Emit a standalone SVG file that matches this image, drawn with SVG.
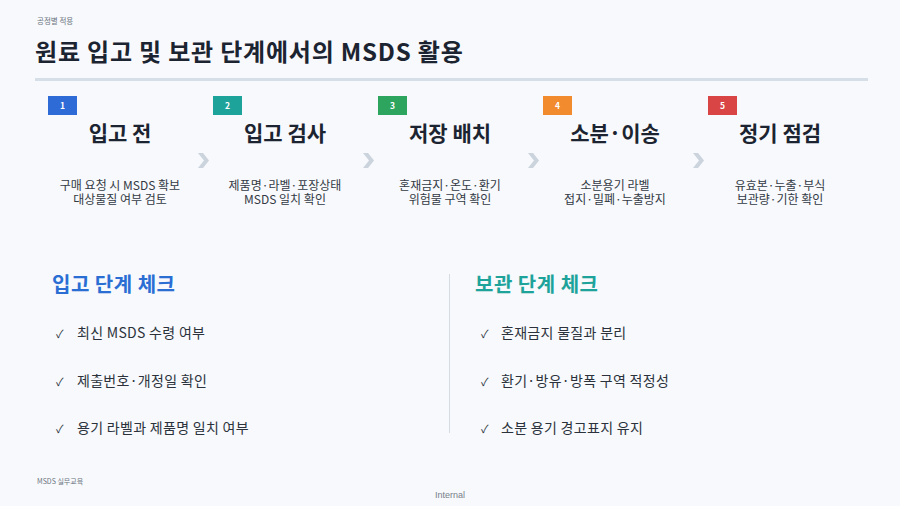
<svg xmlns="http://www.w3.org/2000/svg" width="900" height="506" viewBox="0 0 900 506">
<style>
text{font-family:"Noto Sans CJK KR","Noto Sans",sans-serif;}
.ttl{font-size:24px;font-weight:700;fill:#1b2430;letter-spacing:0.8px;}
.badge{font-size:8.5px;font-weight:700;fill:#ffffff;text-anchor:middle;}
.stitle{font-size:21px;font-weight:700;fill:#1b2430;text-anchor:middle;}
.desc{font-size:12px;fill:#333a44;text-anchor:middle;}
.chev{fill:#cbd3dd;}
.sec{font-size:20px;font-weight:700;letter-spacing:0.5px;}
.item{font-size:14px;fill:#2b323b;letter-spacing:0.3px;}
.chk{font-size:11px;fill:#2b323b;}
.small{font-size:7.5px;fill:#6b7480;}
</style>
<rect width="900" height="506" fill="#f7f9fc"/>
<text x="37" y="24" class="small">공정별 적용</text>
<text x="35" y="61" class="ttl">원료 입고 및 보관 단계에서의 MSDS 활용</text>
<rect x="35" y="78" width="833" height="3" fill="#d6dee7"/>

<g id="step1">
<rect x="48" y="96" width="29" height="19" fill="#2e6bd6"/>
<text x="62.5" y="108.5" class="badge">1</text>
<text x="120" y="141" class="stitle">입고 전</text>
<text class="desc"><tspan x="120" y="190">구매 요청 시 MSDS 확보</tspan><tspan x="120" y="204">대상물질 여부 검토</tspan></text>
</g>
<g id="step2">
<rect x="213" y="96" width="29" height="19" fill="#1ea39b"/>
<text x="227.5" y="108.5" class="badge">2</text>
<text x="285" y="141" class="stitle">입고 검사</text>
<text class="desc"><tspan x="285" y="190">제품명·라벨·포장상태</tspan><tspan x="285" y="204">MSDS 일치 확인</tspan></text>
</g>
<g id="step3">
<rect x="378" y="96" width="29" height="19" fill="#2ea55e"/>
<text x="392.5" y="108.5" class="badge">3</text>
<text x="450" y="141" class="stitle">저장 배치</text>
<text class="desc"><tspan x="450" y="190">혼재금지·온도·환기</tspan><tspan x="450" y="204">위험물 구역 확인</tspan></text>
</g>
<g id="step4">
<rect x="543" y="96" width="29" height="19" fill="#f28a2e"/>
<text x="557.5" y="108.5" class="badge">4</text>
<text x="615" y="141" class="stitle">소분·이송</text>
<text class="desc"><tspan x="615" y="190">소분용기 라벨</tspan><tspan x="615" y="204">접지·밀폐·누출방지</tspan></text>
</g>
<g id="step5">
<rect x="708" y="96" width="29" height="19" fill="#d94545"/>
<text x="722.5" y="108.5" class="badge">5</text>
<text x="780" y="141" class="stitle">정기 점검</text>
<text class="desc"><tspan x="780" y="190">유효본·누출·부식</tspan><tspan x="780" y="204">보관량·기한 확인</tspan></text>
</g>

<g id="connectors">
<path class="chev" d="M198 153 L203 153 L209 160.5 L203 168 L198 168 L204 160.5 Z"/>
<path class="chev" d="M363 153 L368 153 L374 160.5 L368 168 L363 168 L369 160.5 Z"/>
<path class="chev" d="M528 153 L533 153 L539 160.5 L533 168 L528 168 L534 160.5 Z"/>
<path class="chev" d="M693 153 L698 153 L704 160.5 L698 168 L693 168 L699 160.5 Z"/>
</g>

<g id="intake-check">
<text x="52" y="292" class="sec" fill="#2a6ed4">입고 단계 체크</text>
<text x="56" y="338" class="chk">✓</text>
<text x="77" y="338" class="item">최신 MSDS 수령 여부</text>
<text x="56" y="386" class="chk">✓</text>
<text x="77" y="386" class="item">제출번호·개정일 확인</text>
<text x="56" y="433" class="chk">✓</text>
<text x="77" y="433" class="item">용기 라벨과 제품명 일치 여부</text>
</g>
<rect x="449" y="274" width="1" height="159" fill="#d6dce4"/>
<g id="storage-check">
<text x="475" y="292" class="sec" fill="#1ea39b">보관 단계 체크</text>
<text x="481" y="338" class="chk">✓</text>
<text x="501" y="338" class="item">혼재금지 물질과 분리</text>
<text x="481" y="386" class="chk">✓</text>
<text x="501" y="386" class="item">환기·방유·방폭 구역 적정성</text>
<text x="481" y="433" class="chk">✓</text>
<text x="501" y="433" class="item">소분 용기 경고표지 유지</text>
</g>

<text x="37" y="484" class="small" style="font-size:7px">MSDS 실무교육</text>
<text x="450" y="498" font-size="9" fill="#777f8a" text-anchor="middle" style="font-family:'Liberation Sans',sans-serif">Internal</text>
</svg>
